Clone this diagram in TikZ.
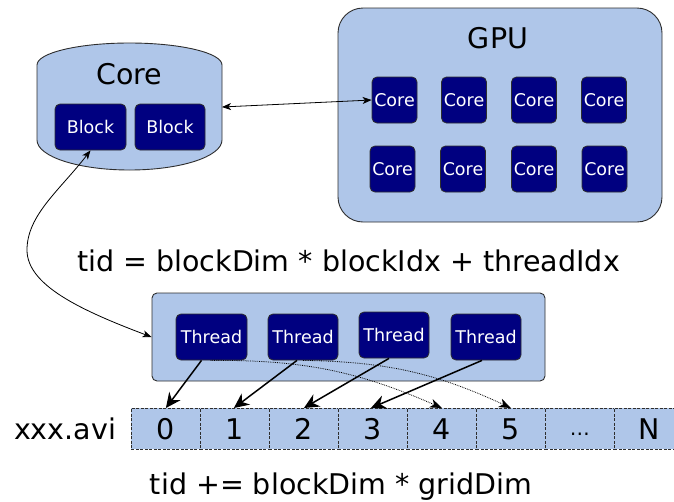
\documentclass[tikz,border=0pt]{standalone}
\usepackage{fontspec}
\setmainfont{DejaVu Sans}
\usetikzlibrary{arrows.meta,calc}
\definecolor{paleblue}{HTML}{AFC6E9}
\definecolor{unitnavy}{HTML}{000080}
\definecolor{edgegray}{HTML}{2E2E2E}

\begin{document}
\begin{tikzpicture}[x=1pt,y=-1pt,
  panel/.style={draw=edgegray, fill=paleblue, line width=0.9pt},
  unit/.style={draw=edgegray, fill=unitnavy, text=white, rounded corners=5pt,
    line width=0.8pt, inner sep=0pt, minimum height=46pt,
    font=\fontsize{17.5}{20}\selectfont},
  big/.style={font=\fontsize{28.5}{32}\selectfont, inner sep=0pt, anchor=base},
  cell/.style={draw=edgegray, dash pattern=on 3pt off 1.5pt, fill=paleblue,
    line width=0.8pt, minimum width=69pt, minimum height=41pt, inner sep=0pt,
    font=\fontsize{28.5}{32}\selectfont},
  thinlink/.style={draw=black, line width=0.8pt,
    {Stealth[length=9pt,width=7pt,inset=2.5pt]}-{Stealth[length=9pt,width=7pt,inset=2.5pt]}},
  bigarrow/.style={draw=black, line width=1.5pt,
    -{Stealth[length=15pt,width=14pt,inset=5pt]}},
  dotlink/.style={draw=black, line width=0.8pt, densely dotted,
    -{Stealth[length=12pt,width=9pt,inset=3.5pt]}}
]
\useasboundingbox (0,0) rectangle (674,501);

% Core: a drum-shaped container
\path[panel] (37,140) -- (37,65)
  .. controls (37,52.85) and (78.4,43) .. (129.5,43)
  .. controls (180.6,43) and (222,52.85) .. (222,65)
  -- (222,140)
  .. controls (222,156.6) and (180.6,170) .. (129.5,170)
  .. controls (78.4,170) and (37,156.6) .. (37,140) -- cycle;
\coordinate (coreE) at (222,107);
\node[big] (corelbl) at (129.5,84) {Core};
\node[unit, minimum width=71pt] (b1) at (90.5,127) {Block};
\node[unit, minimum width=70pt] (b2) at (170,127) {Block};

% GPU with its eight cores
\node[panel, rounded corners=25pt, minimum width=324pt, minimum height=214pt] (gpu) at (500,115) {};
\node[big] (gpulbl) at (498,48) {GPU};
\foreach \n/\x in {1/394.5,2/464,3/534,4/604}
  \node[unit, minimum width=45pt] (g\n) at (\x,100) {Core};
\foreach \n/\x in {5/392.5,6/463,7/534,8/604.5}
  \node[unit, minimum width=45pt] (g\n) at (\x,169) {Core};

\draw[thinlink] (coreE) -- (g1.west);

% index formula
\node[big] (eq1) at (348.5,271) {tid = blockDim * blockIdx + threadIdx};

% block of threads
\node[panel, rounded corners=5pt, minimum width=393pt, minimum height=88pt] (tpanel) at (348.5,337) {};
\node[unit, minimum width=71pt] (t1) at (211.5,337) {Thread};
\node[unit, minimum width=70pt] (t2) at (303,337) {Thread};
\node[unit, minimum width=70pt] (t3) at (394,335) {Thread};
\node[unit, minimum width=70pt] (t4) at (486,337) {Thread};

\draw[thinlink] (b1.south) .. controls (60,190) and (27,215) .. (27,250)
  .. controls (27,285) and (80,310) .. (tpanel.west);

% data array
\node[big] (file) at (65,439) {xxx.avi};
\foreach \i/\lbl in {0/0,1/1,2/2,3/3,4/4,5/5,6/{\smash{\raisebox{-12pt}{\fontsize{20}{22}\selectfont ⋯}}},7/N}
  \node[cell, anchor=north west] (c\i) at ({131+69*\i},408) {\lbl};

% thread-to-element mapping
\draw[bigarrow] ([xshift=-10pt]t1.south) -- (c0.north);
\draw[bigarrow] ([xshift=-6pt]t2.south) -- ([xshift=-1pt]c1.north);
\draw[bigarrow] ([xshift=-5pt]t3.south) -- (c2.north);
\draw[bigarrow] ([xshift=-4pt]t4.south) -- ([xshift=-2pt]c3.north);
\draw[dotlink] ([xshift=-1pt]t1.south) to[bend left=12] (c4.north);
\draw[dotlink] (t2.south) to[bend left=12] (c5.north);

\node[big] (eq2) at (341,494) {tid += blockDim * gridDim};
\end{tikzpicture}
\end{document}
